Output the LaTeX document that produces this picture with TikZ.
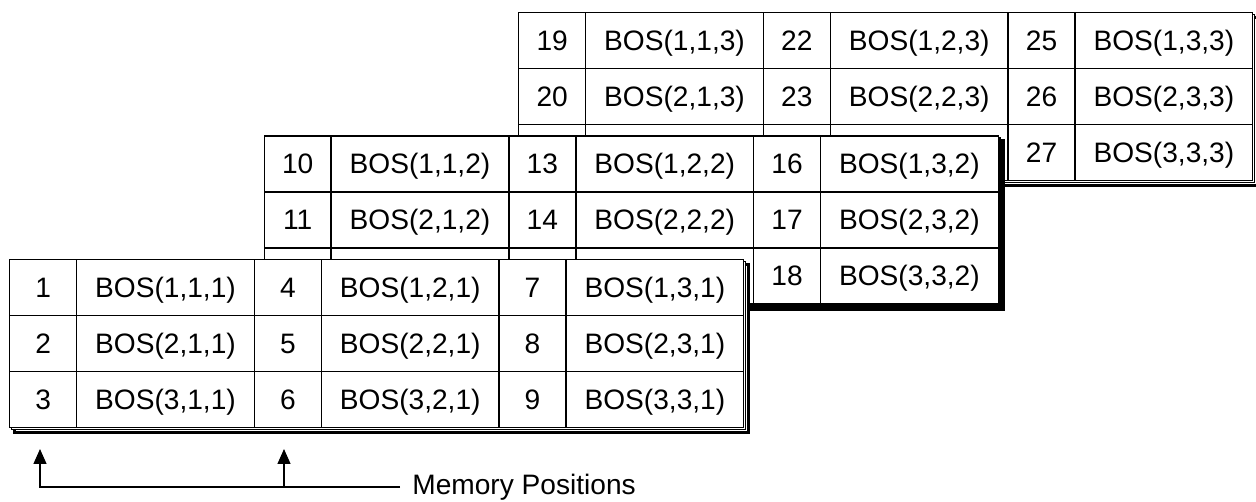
\documentclass[tikz,border=0pt]{standalone}
\usepackage{fontspec}
\setmainfont{Liberation Sans}
\usetikzlibrary{arrows.meta}

\tikzset{
  cell/.style={draw, line width=0.75pt, fill=white, inner sep=0pt,
    minimum height=1.12cm, text height=12pt, text depth=1pt, anchor=north west},
  numcell/.style={cell, minimum width=1.34cm},
  boscell/.style={cell, minimum width=3.554cm},
  sheet/.style={draw, line width=0.75pt, fill=white},
  sheetedge/.style={draw, line width=1.8pt, fill=white},
  pointer/.style={line width=0.75pt, -{Triangle[length=0.3cm, width=0.26cm]}}
}

\begin{document}
\begin{tikzpicture}[x=0.02cm, y=-0.02cm, font=\fontsize{16}{19}\selectfont]
	\useasboundingbox (0,0) rectangle (1256,502);
	\def\numw{67}
	\def\colw{244.7}
	\def\rowh{56}
	\def\tablew{734}
	\def\tableh{168}

	% one sheet per plane, the back one first
	\foreach \k/\ox/\oy in {3/518/12, 2/263.5/135.5, 1/9/259} {
		\draw[sheetedge] (\ox+5.5, \oy+5.5) rectangle ++(\tablew, \tableh);
		\draw[sheet] (\ox+2.5, \oy+2.5) rectangle ++(\tablew, \tableh);
		\foreach \j in {1,2,3} {
			\foreach \i in {1,2,3} {
				\pgfmathtruncatemacro\pos{9*(\k-1)+3*(\j-1)+\i}
				% cells hidden by the sheet in front keep no text
				\pgfmathtruncatemacro\hidden{(\k>1)&&(\i==3)&&(\j<3)}
				\ifnum\hidden=1
					\node[numcell] (n\k\i\j) at ({\ox+(\j-1)*\colw}, {\oy+(\i-1)*\rowh}) {};
					\node[boscell] (b\k\i\j) at ({\ox+(\j-1)*\colw+\numw}, {\oy+(\i-1)*\rowh}) {};
				\else
					\node[numcell] (n\k\i\j) at ({\ox+(\j-1)*\colw}, {\oy+(\i-1)*\rowh}) {\pos};
					\node[boscell] (b\k\i\j) at ({\ox+(\j-1)*\colw+\numw}, {\oy+(\i-1)*\rowh}) {BOS(\i,\j,\k)};
				\fi
			}
		}
	}

	% memory positions
	\coordinate (first tip) at (40,449);
	\coordinate (second tip) at (284,449);
	\node (memory label) [anchor=west, inner sep=0.24cm] at (400,487) {Memory Positions};
	\draw[pointer] (memory label.west) -| (first tip);
	\draw[pointer] (second tip |- memory label.west) -- (second tip);
\end{tikzpicture}
\end{document}
